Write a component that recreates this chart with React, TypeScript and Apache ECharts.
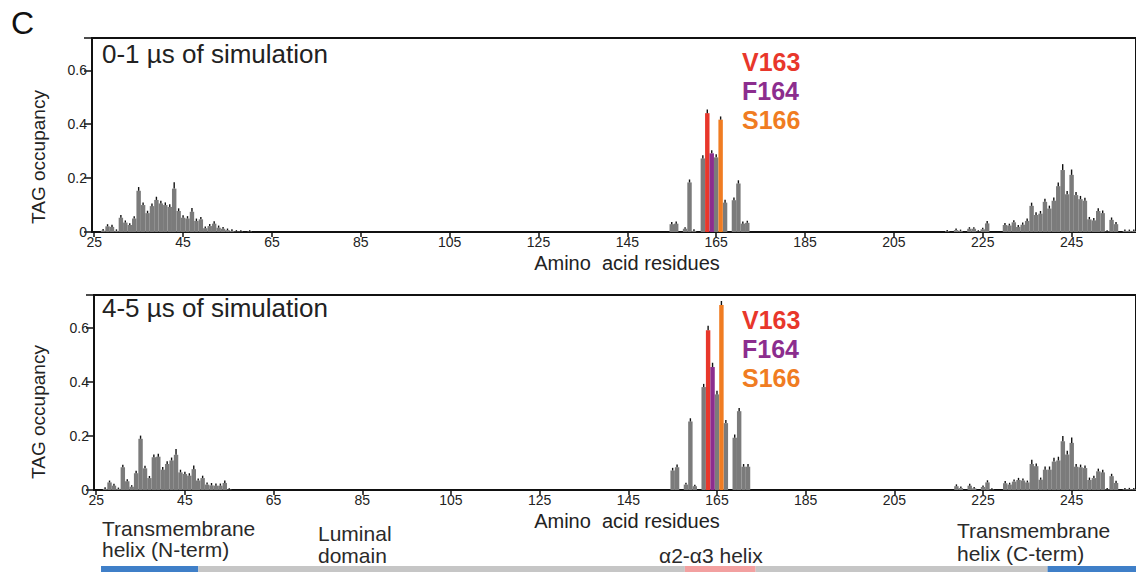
import React, { useEffect, useRef } from "react";
import * as echarts from "echarts";

const FIRST_RES = 25;
const LAST_RES = 259;
const residues: string[] = [];
for (let r = FIRST_RES; r <= LAST_RES; r++) residues.push(String(r));

// 0-1 us of simulation
const earlyNStart = 27;
const earlyN = [0.005,0.021,0.019,0.004,0.053,0.035,0.026,0.05,0.153,0.10,0.07,0.096,0.119,0.106,0.10,0.093,0.161,0.078,0.053,0.05,0.075,0.041,0.047,0.014,0.022,0.031,0.016,0.012,0.007,0.004,0.002,0.002,0,0.002];
const earlyNErr = [0.004,0.006,0.006,0.004,0.008,0.006,0.005,0.007,0.012,0.008,0.007,0.008,0.010,0.008,0.008,0.008,0.022,0.008,0.007,0.007,0.012,0.007,0.007,0.005,0.006,0.007,0.006,0.005,0.004,0.004,0.003,0.003,0,0.003];
const earlyMidStart = 155;
const earlyMid = [0.029,0.031,0,0.012,0.184,0.004,0,0.273,0.441,0.292,0.277,0.417,0.109,0,0.118,0.18,0.031,0.034];
const earlyMidErr = [0.006,0.006,0,0.004,0.009,0.004,0,0.01,0.012,0.01,0.01,0.01,0.009,0,0.008,0.01,0.006,0.006];
const earlyCStart = 217;
const earlyC = [0.003,0,0.007,0.004,0,0.012,0.012,0.002,0.01,0.032,0,0,0,0.026,0.024,0.036,0.019,0.027,0.041,0.097,0.063,0.068,0.112,0.087,0.116,0.17,0.23,0.14,0.212,0.137,0.122,0.116,0.047,0.043,0.078,0.07,0.002,0.045,0.029,0,0.004,0.004,0.004];
const earlyCErr = [0.003,0,0.004,0.003,0,0.004,0.004,0.003,0.004,0.007,0,0,0,0.006,0.005,0.006,0.005,0.006,0.007,0.01,0.008,0.008,0.01,0.009,0.01,0.012,0.02,0.01,0.018,0.01,0.01,0.009,0.007,0.007,0.008,0.008,0.003,0.007,0.006,0,0.003,0.003,0.003];

// 4-5 us of simulation
const lateNStart = 27;
const lateN = [0.004,0.028,0.016,0.004,0.084,0.032,0.012,0.062,0.189,0.08,0.044,0.121,0.123,0.075,0.096,0.109,0.13,0.065,0.059,0.053,0.077,0.035,0.044,0.02,0.017,0.016,0.016,0.026,0.002,0];
const lateNErr = [0.004,0.005,0.005,0.003,0.007,0.006,0.004,0.007,0.01,0.008,0.006,0.008,0.009,0.008,0.008,0.009,0.02,0.008,0.007,0.007,0.012,0.006,0.007,0.006,0.007,0.006,0.006,0.007,0.003,0];
const lateMidStart = 155;
const lateMid = [0.072,0.084,0,0.02,0.253,0.014,0,0.38,0.59,0.454,0.353,0.683,0.247,0,0.193,0.291,0.086,0.086];
const lateMidErr = [0.008,0.008,0,0.005,0.01,0.004,0,0.01,0.015,0.014,0.012,0.013,0.01,0,0.01,0.01,0.008,0.008];
const lateCStart = 217;
const lateC = [0,0,0.014,0.007,0,0.016,0.006,0,0.011,0.028,0.002,0,0,0.025,0.02,0.031,0.037,0.035,0.028,0.096,0.088,0.038,0.075,0.075,0.105,0.109,0.18,0.131,0.174,0.086,0.084,0.081,0.037,0.044,0.069,0.065,0.002,0.051,0.026,0,0.003,0.003,0.003];
const lateCErr = [0,0,0.005,0.004,0,0.005,0.003,0,0.004,0.006,0.003,0,0,0.006,0.005,0.006,0.006,0.006,0.005,0.014,0.008,0.006,0.01,0.01,0.012,0.012,0.018,0.012,0.018,0.008,0.008,0.008,0.007,0.007,0.008,0.008,0.004,0.007,0.006,0,0.003,0.003,0.003];

const highlightRes = [163, 164, 166];
const highlightLabels = ["V163", "F164", "S166"];
const highlightColors = ["#e8372b", "#8c2d8e", "#f07c22"];

const yTicks = [0, 0.2, 0.4, 0.6];
const panelTitles = ["0-1 µs of simulation", "4-5 µs of simulation"];

// domain track (residue ranges)
const domainStart = [26, 48, 158, 174, 240];
const domainEnd = [47, 157, 173, 239, 259];
const domainColors = ["#3f7fc8", "#c6c6c6", "#f2a0a0", "#c6c6c6", "#3f7fc8"];

const FONT = "'Liberation Sans', Arial, Helvetica, sans-serif";

type Cluster = { start: number; values: number[]; errs: number[] };

function buildPanel(clusters: Cluster[]) {
  const n = residues.length;
  const gray: (number | null)[] = new Array(n).fill(null);
  const hi: (number | null)[][] = highlightRes.map(() => new Array(n).fill(null));
  const err: number[][] = [];
  clusters.forEach((c) => {
    c.values.forEach((v, i) => {
      const res = c.start + i;
      const idx = res - FIRST_RES;
      const h = highlightRes.indexOf(res);
      if (h >= 0) hi[h][idx] = v;
      else gray[idx] = v;
      err.push([idx, v, c.errs[i]]);
    });
  });
  return { gray, hi, err };
}

const early = buildPanel([
  { start: earlyNStart, values: earlyN, errs: earlyNErr },
  { start: earlyMidStart, values: earlyMid, errs: earlyMidErr },
  { start: earlyCStart, values: earlyC, errs: earlyCErr },
]);
const late = buildPanel([
  { start: lateNStart, values: lateN, errs: lateNErr },
  { start: lateMidStart, values: lateMid, errs: lateMidErr },
  { start: lateCStart, values: lateC, errs: lateCErr },
]);

export default function App() {
  const ref = useRef<HTMLDivElement>(null);
  useEffect(() => {
    if (!ref.current) return;
    const chart = echarts.init(ref.current, undefined, { renderer: "svg" });

    const grids = [
      { left: 92, top: 38, width: 1045, height: 194 },
      { left: 94, top: 295, width: 1045, height: 195 },
    ];

    const xAxes: any[] = grids.map((_, gi) => ({
      type: "category",
      gridIndex: gi,
      data: residues,
      boundaryGap: true,
      axisLine: { lineStyle: { color: "#111", width: 2 } },
      axisTick: {
        show: true,
        alignWithLabel: true,
        length: 5,
        interval: (i: number) => i % 20 === 0,
        lineStyle: { color: "#111", width: 1.5 },
      },
      axisLabel: {
        interval: (i: number) => i % 20 === 0,
        fontSize: 14,
        lineHeight: 12,
        color: "#222",
        fontFamily: FONT,
        margin: 4,
      },
      splitLine: { show: false },
    }));
    xAxes.push({ type: "value", gridIndex: 2, min: 24.5, max: 259.5, show: false });

    const yAxes: any[] = grids.map((_, gi) => ({
      type: "value",
      gridIndex: gi,
      min: 0,
      max: 0.72,
      interval: 0.2,
      axisLine: { show: true, lineStyle: { color: "#111", width: 2 } },
      axisTick: { show: true, length: 8, lineStyle: { color: "#111", width: 1.5 } },
      axisLabel: {
        fontSize: 14,
        color: "#222",
        fontFamily: FONT,
        margin: 5,
        formatter: (v: number) => {
          const m = yTicks.find((t) => Math.abs(t - v) < 1e-6);
          return m === undefined ? "" : String(m);
        },
      },
      splitLine: { show: false },
    }));
    yAxes.push({ type: "value", gridIndex: 2, min: 0, max: 1, show: false });

    const series: any[] = [];
    [early, late].forEach((p, gi) => {
      series.push({
        type: "bar",
        xAxisIndex: gi,
        yAxisIndex: gi,
        data: p.gray,
        barWidth: "100%",
        barGap: "-100%",
        barCategoryGap: "0%",
        itemStyle: { color: "#7b7b7b", borderWidth: 0 },
        silent: true,
      });
      highlightRes.forEach((_, h) => {
        series.push({
          type: "bar",
          xAxisIndex: gi,
          yAxisIndex: gi,
          data: p.hi[h],
          barWidth: "100%",
          barGap: "-100%",
          barCategoryGap: "0%",
          itemStyle: { color: highlightColors[h], borderWidth: 0 },
          silent: true,
        });
      });
      series.push({
        type: "custom",
        xAxisIndex: gi,
        yAxisIndex: gi,
        data: p.err,
        encode: { x: 0, y: 1 },
        silent: true,
        z: 5,
        renderItem: (params: any, api: any) => {
          const x = api.value(0);
          const v = api.value(1);
          const e = api.value(2);
          const p0 = api.coord([x, v]);
          const p1 = api.coord([x, v + e]);
          return {
            type: "line",
            shape: { x1: p0[0], y1: p0[1], x2: p1[0], y2: p1[1] - 0.5 },
            style: { stroke: "#111", lineWidth: 1.4 },
          };
        },
      });
    });

    series.push({
      type: "custom",
      xAxisIndex: 2,
      yAxisIndex: 2,
      data: domainStart.map((s, i) => [s, domainEnd[i], i]),
      encode: { x: [0, 1] },
      silent: true,
      renderItem: (params: any, api: any) => {
        const s = api.value(0);
        const e = api.value(1);
        const c = domainColors[api.value(2)];
        const p0 = api.coord([s - 0.5, 1]);
        const p1 = api.coord([e + 0.5, 0]);
        return {
          type: "rect",
          shape: { x: p0[0], y: p0[1], width: p1[0] - p0[0], height: p1[1] - p0[1] },
          style: { fill: c },
        };
      },
    });

    const txt = (x: number, y: number, text: string, extra: any = {}) => ({
      type: "text",
      x,
      y,
      silent: true,
      style: {
        text,
        fontFamily: FONT,
        fontSize: 21,
        fill: "#2a2a2a",
        textVerticalAlign: "top",
        ...extra,
      },
    });

    const graphics: any[] = [
      txt(11, 7, "C", { fontSize: 32, fill: "#111" }),
      txt(102, 41, panelTitles[0], { fontSize: 26, fill: "#222" }),
      txt(102, 295, panelTitles[1], { fontSize: 26, fill: "#222" }),
      txt(627, 253, "Amino  acid residues", { fontSize: 20, textAlign: "center", fill: "#222" }),
      txt(627, 511, "Amino  acid residues", { fontSize: 20, textAlign: "center", fill: "#222" }),
      {
        type: "text",
        x: 38,
        y: 157,
        rotation: Math.PI / 2,
        silent: true,
        style: { text: "TAG occupancy", fontFamily: FONT, fontSize: 19, fill: "#222", textAlign: "center", textVerticalAlign: "middle" },
      },
      {
        type: "text",
        x: 38,
        y: 412,
        rotation: Math.PI / 2,
        silent: true,
        style: { text: "TAG occupancy", fontFamily: FONT, fontSize: 19, fill: "#222", textAlign: "center", textVerticalAlign: "middle" },
      },
      txt(102, 518, "Transmembrane", { lineHeight: 20 }),
      txt(102, 539, "helix (N-term)", { lineHeight: 20 }),
      txt(318, 523, "Luminal"),
      txt(318, 545, "domain"),
      txt(659, 545, "α2-α3 helix"),
      txt(957, 520, "Transmembrane"),
      txt(957, 543, "helix (C-term)"),
    ];
    highlightLabels.forEach((l, h) => {
      graphics.push(txt(742, 49 + h * 29, l, { fontSize: 25, fontWeight: "bold", fill: highlightColors[h] }));
      graphics.push(txt(742, 307 + h * 29, l, { fontSize: 25, fontWeight: "bold", fill: highlightColors[h] }));
    });

    chart.setOption({
      animation: false,
      backgroundColor: "#ffffff",
      textStyle: { fontFamily: FONT },
      grid: [
        { ...grids[0], show: true, borderColor: "#111", borderWidth: 2, backgroundColor: "transparent" },
        { ...grids[1], show: true, borderColor: "#111", borderWidth: 2, backgroundColor: "transparent" },
        { left: 96.6, top: 566, width: 1041, height: 6 },
      ],
      xAxis: xAxes,
      yAxis: yAxes,
      series,
      graphic: graphics,
    });

    return () => chart.dispose();
  }, []);

  return (
    <div
      ref={ref}
      style={{ position: "fixed", left: 0, top: 0, width: 1136, height: 572, background: "#fff" }}
    />
  );
}
